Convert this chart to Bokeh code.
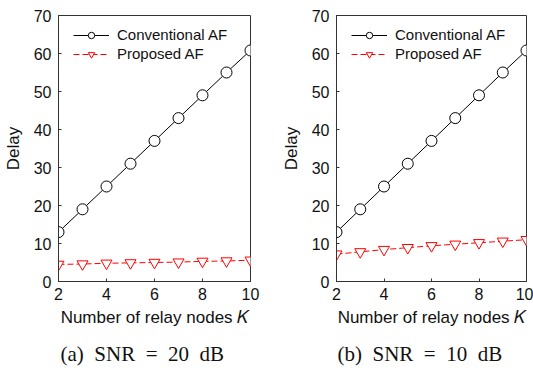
from bokeh.plotting import figure
from bokeh.layouts import row
from bokeh.models import Range1d, FixedTicker, Title, Legend, LegendItem
from bokeh.embed import file_html
from bokeh.resources import INLINE

K = [2, 3, 4, 5, 6, 7, 8, 9, 10]
conv_a = [13, 19, 25, 31, 37, 43, 49, 55, 60.8]
prop_a = [4.5, 4.6, 4.8, 4.9, 5.0, 5.1, 5.3, 5.4, 5.6]
conv_b = [13, 19, 25, 31, 37, 43, 49, 55, 60.8]
prop_b = [7.2, 7.8, 8.4, 8.9, 9.4, 9.8, 10.2, 10.6, 11.0]
x_ticks = [2, 4, 6, 8, 10]
y_ticks = [0, 10, 20, 30, 40, 50, 60, 70]
NB = "\u00a0"
captions = ["(a)" + NB * 2 + "SNR" + NB * 2 + "=" + NB * 2 + "20" + NB * 2 + "dB",
            "(b)" + NB * 2 + "SNR" + NB * 2 + "=" + NB * 2 + "10" + NB * 2 + "dB"]

SANS = "Liberation Sans"
SERIF = "Liberation Serif"


def make(conv, prop, caption, w, bl, br, cap_offset):
    p = figure(width=w, height=375, output_backend="svg", toolbar_location=None,
               x_range=Range1d(2, 10), y_range=Range1d(0, 70),
               min_border_left=bl, min_border_right=br, min_border_top=15,
               min_border_bottom=93)
    p.background_fill_color = "white"
    p.border_fill_color = "white"
    p.grid.visible = False
    p.outline_line_color = "#333333"
    p.outline_line_width = 1
    for ax in (p.xaxis[0], p.yaxis[0]):
        ax.major_tick_line_color = "#333333"
        ax.major_tick_in = 3
        ax.major_tick_out = 0
        ax.minor_tick_line_color = None
        ax.axis_line_color = "#333333"
        ax.major_label_text_font = SANS
        ax.major_label_text_font_size = "16px"
        ax.major_label_text_color = "#111111"
        ax.axis_label_text_font = SANS
        ax.axis_label_text_font_size = "17px"
        ax.axis_label_text_font_style = "normal"
        ax.axis_label_text_color = "#111111"
    p.xaxis.ticker = FixedTicker(ticks=x_ticks)
    p.yaxis.ticker = FixedTicker(ticks=y_ticks)
    p.xaxis.major_label_standoff = 6
    p.yaxis.major_label_standoff = 7
    p.xaxis.axis_label = "Number of relay nodes 𝐾"
    p.xaxis.axis_label_standoff = 5
    p.yaxis.axis_label = "Delay"
    p.yaxis.axis_label_standoff = 8

    l1 = p.line(K, conv, line_color="black", line_width=1)
    m1 = p.scatter(K, conv, marker="circle", size=11, fill_color="white",
                   line_color="black", line_width=1)
    l2 = p.line(K, prop, line_color="red", line_width=1, line_dash="6 3")
    m2 = p.scatter(K, prop, marker="inverted_triangle", size=11, fill_color="white",
                   line_color="red", line_width=1)

    legend = Legend(items=[LegendItem(label="Conventional AF", renderers=[l1, m1]),
                           LegendItem(label="Proposed AF", renderers=[l2, m2])],
                    location=(15, 219))
    legend.border_line_color = None
    legend.background_fill_alpha = 0
    legend.label_text_font = SANS
    legend.label_text_font_size = "15px"
    legend.label_text_color = "#111111"
    legend.glyph_width = 36
    legend.glyph_height = 16
    legend.label_height = 16
    legend.spacing = 2
    legend.margin = 0
    legend.padding = 0
    legend.label_standoff = 8
    p.add_layout(legend)

    t = Title(text=caption, align="left", offset=cap_offset, vertical_align="bottom",
              text_font=SERIF, text_font_size="21px", text_font_style="normal",
              text_color="#111111", standoff=20)
    p.add_layout(t, "below")
    return p


p1 = make(conv_a, prop_a, captions[0], 270, 58, 20, 2)
p2 = make(conv_b, prop_b, captions[1], 263, 66, 7, 1)
layout = row(p1, p2, spacing=0)

open("out.html", "w").write(file_html(layout, INLINE))
